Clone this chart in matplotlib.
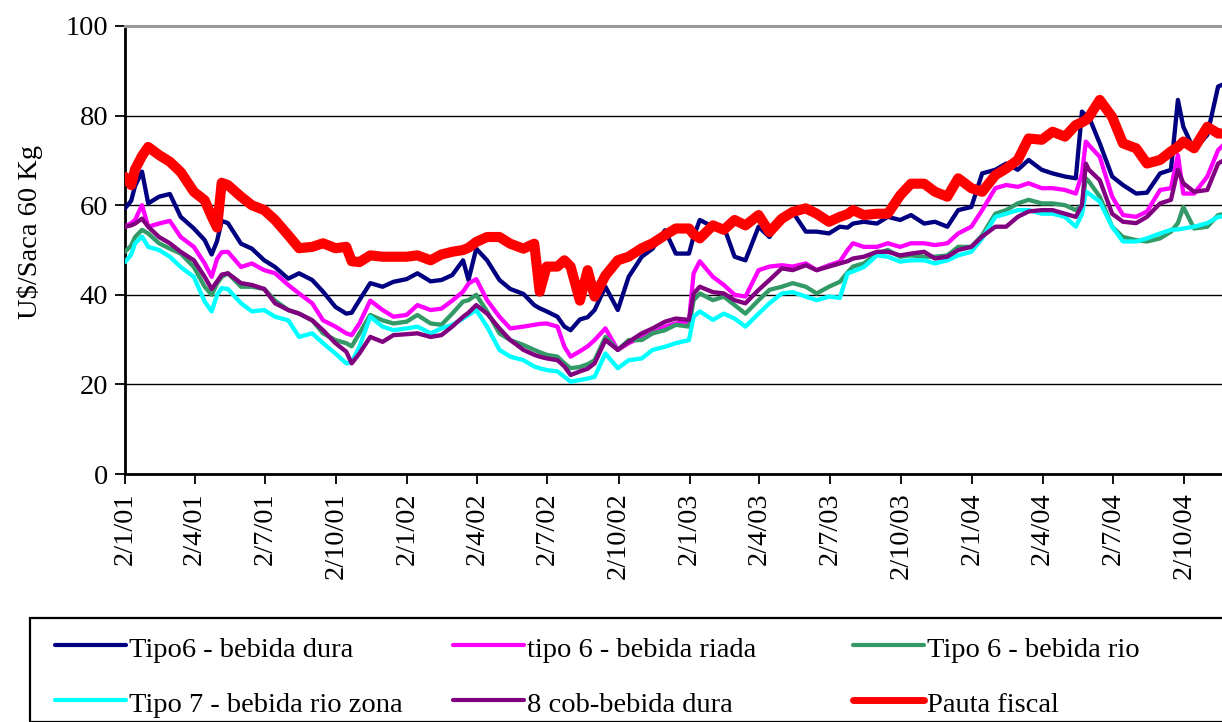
import matplotlib
matplotlib.use("Agg")
import matplotlib.pyplot as plt
import matplotlib.dates as mdates
from matplotlib.lines import Line2D
from matplotlib.patches import Rectangle
from matplotlib.ticker import FuncFormatter
import numpy as np

plt.rcParams["font.family"] = ["Liberation Serif", "DejaVu Serif"]

# Sample dates (roughly twice a month plus visible spikes)
dates = np.array([
    # 2001
    "2001-01-02", "2001-01-10", "2001-01-15", "2001-01-24", "2001-02-01", "2001-02-15",
    "2001-03-01", "2001-03-15", "2001-04-01", "2001-04-15", "2001-04-24", "2001-05-01",
    "2001-05-07", "2001-05-15", "2001-06-01", "2001-06-15", "2001-07-01", "2001-07-15",
    "2001-08-01", "2001-08-15", "2001-09-01", "2001-09-15", "2001-10-01", "2001-10-15",
    "2001-10-22", "2001-11-01", "2001-11-15", "2001-12-01", "2001-12-15",
    # 2002
    "2002-01-01", "2002-01-15", "2002-02-01", "2002-02-15", "2002-03-01", "2002-03-15",
    "2002-03-22", "2002-04-01", "2002-04-15", "2002-05-01", "2002-05-15", "2002-06-01",
    "2002-06-15", "2002-06-22", "2002-07-01", "2002-07-15", "2002-07-24", "2002-08-01",
    "2002-08-13", "2002-08-23", "2002-09-01", "2002-09-15", "2002-10-01", "2002-10-15",
    "2002-11-01", "2002-11-15", "2002-12-01", "2002-12-15",
    # 2003
    "2003-01-01", "2003-01-07", "2003-01-15", "2003-02-01", "2003-02-15", "2003-03-01",
    "2003-03-15", "2003-04-01", "2003-04-15", "2003-05-01", "2003-05-15", "2003-06-01",
    "2003-06-15", "2003-07-01", "2003-07-15", "2003-07-25", "2003-08-01", "2003-08-15",
    "2003-09-01", "2003-09-15", "2003-10-01", "2003-10-15", "2003-11-01", "2003-11-15",
    "2003-12-01", "2003-12-15",
    # 2004
    "2004-01-01", "2004-01-15", "2004-02-01", "2004-02-15", "2004-03-01", "2004-03-15",
    "2004-04-01", "2004-04-15", "2004-05-01", "2004-05-15", "2004-05-23", "2004-05-28",
    "2004-06-01", "2004-06-15", "2004-07-01", "2004-07-15", "2004-08-01", "2004-08-15",
    "2004-09-01", "2004-09-15", "2004-09-24", "2004-10-01", "2004-10-15", "2004-11-01",
    "2004-11-15", "2004-11-22",
], dtype="datetime64[D]")

tipo6_dura = [
    59.3, 61.0, 64.3, 67.5, 60.4, 61.9, 62.5, 57.4, 54.8, 52.2, 49.0, 52.0, 56.5, 56.0, 51.4,
    50.3, 47.7, 46.2, 43.6, 44.8, 43.3, 40.7, 37.3, 35.8, 36.0, 38.8, 42.6, 41.8, 42.9,
    43.5, 44.8, 43.0, 43.3, 44.4, 47.7, 43.3, 50.3, 47.7, 43.3, 41.3, 40.2, 37.7, 37.0,
    36.3, 35.1, 32.9, 32.1, 34.5, 35.0, 36.6, 41.8, 36.6, 44.0, 48.5, 50.3, 54.4, 49.2,
    49.2, 53.0, 56.7, 55.2, 55.2, 48.5, 47.7, 55.2, 52.9, 57.0, 58.5, 54.1, 54.1, 53.7,
    55.2, 55.0, 55.9, 56.3, 55.9, 57.4, 56.7, 57.8, 55.9, 56.3, 55.2, 58.9,
    59.6, 67.1, 67.9, 69.3, 67.9, 70.1, 67.9, 67.1, 66.4, 66.0, 80.9, 80.0, 79.7, 73.8,
    66.4, 64.5, 62.6, 62.8, 67.1, 67.9, 83.5, 77.5, 72.3, 75.7, 86.5, 87.0,
]
tipo6_riada = [
    55.2, 56.0, 56.7, 60.0, 55.2, 55.9, 56.5, 52.9, 50.7, 47.0, 44.0, 48.0, 49.5, 49.6, 46.2,
    47.0, 45.5, 44.8, 42.2, 40.3, 38.1, 34.3, 32.9, 31.4, 31.0, 33.6, 38.7, 36.6, 35.1,
    35.5, 37.7, 36.6, 36.9, 38.7, 40.7, 42.5, 43.5, 38.8, 35.1, 32.5, 32.9, 33.3, 33.5,
    33.6, 32.9, 28.4, 26.2, 27.4, 28.5, 29.9, 32.5, 27.7, 29.2, 30.6, 31.4, 32.9, 33.6,
    34.0, 44.8, 47.5, 44.0, 42.2, 40.0, 39.6, 45.5, 46.3, 46.6, 46.3, 47.0, 45.5, 46.6,
    47.4, 50.0, 51.5, 50.7, 50.7, 51.5, 50.7, 51.5, 51.5, 51.1, 51.5, 53.7,
    55.2, 58.9, 63.8, 64.5, 64.1, 64.9, 63.8, 63.8, 63.4, 62.6, 67.0, 74.2, 73.4, 70.8,
    61.9, 57.8, 57.4, 58.6, 63.4, 63.8, 71.2, 62.6, 62.6, 66.4, 72.3, 73.5,
]
tipo6_rio = [
    49.6, 51.0, 52.9, 54.5, 53.7, 51.5, 50.3, 49.2, 46.2, 41.8, 40.0, 42.5, 44.0, 44.8, 41.8,
    41.8, 41.3, 38.7, 36.6, 35.8, 34.3, 31.4, 29.9, 29.2, 28.5, 31.4, 35.5, 34.3, 33.6,
    34.0, 35.5, 33.6, 33.3, 35.8, 38.5, 38.8, 40.0, 36.3, 31.4, 29.9, 28.8, 27.7, 27.2,
    26.6, 26.2, 24.7, 23.6, 23.9, 24.5, 25.4, 30.6, 27.7, 29.9, 29.9, 31.4, 32.1, 33.3,
    32.9, 38.8, 40.3, 38.8, 39.6, 37.7, 35.8, 38.8, 41.1, 41.8, 42.6, 41.8, 40.3, 41.8,
    42.9, 45.0, 46.3, 47.0, 49.2, 50.0, 48.5, 48.8, 48.5, 48.5, 48.8, 50.7,
    50.7, 53.3, 58.1, 58.9, 60.4, 61.2, 60.4, 60.4, 60.0, 58.9, 60.0, 66.0, 65.3, 61.9,
    55.2, 52.9, 52.2, 51.9, 52.6, 54.1, 56.0, 59.6, 54.8, 55.2, 57.8, 58.0,
]
tipo7_rio_zona = [
    47.3, 49.0, 51.5, 53.0, 50.7, 50.0, 48.5, 46.2, 44.0, 38.5, 36.3, 40.0, 41.5, 41.3, 38.1,
    36.3, 36.6, 35.1, 34.3, 30.6, 31.4, 29.2, 26.9, 24.7, 25.0, 28.4, 35.1, 32.9, 32.1,
    32.5, 32.9, 31.4, 32.5, 33.3, 34.7, 35.5, 36.6, 32.9, 27.7, 26.2, 25.4, 24.0, 23.6,
    23.2, 22.9, 21.7, 20.6, 21.0, 21.3, 21.7, 26.9, 23.6, 25.4, 25.8, 27.7, 28.4, 29.2,
    29.9, 35.1, 36.3, 34.4, 35.8, 34.7, 32.9, 35.8, 38.1, 40.3, 40.6, 39.6, 38.8, 39.6,
    39.3, 44.8, 45.2, 46.2, 48.8, 48.5, 47.4, 47.7, 47.7, 47.0, 47.7, 48.8,
    49.6, 52.6, 57.4, 58.1, 58.9, 58.9, 58.1, 58.1, 57.4, 55.2, 58.0, 63.0, 62.6, 60.8,
    55.2, 51.9, 51.9, 52.6, 53.7, 54.5, 54.6, 54.8, 55.2, 56.0, 57.4, 57.5,
]
cob8_dura = [
    55.2, 55.5, 55.9, 57.0, 55.2, 52.9, 51.5, 49.6, 47.7, 44.0, 41.3, 43.0, 44.5, 44.8, 42.6,
    42.2, 41.3, 38.1, 36.6, 35.8, 34.3, 32.1, 29.2, 27.3, 24.7, 26.9, 30.6, 29.5, 31.0,
    31.2, 31.4, 30.6, 31.0, 32.9, 35.1, 36.0, 37.7, 35.8, 32.5, 29.9, 27.7, 26.6, 26.2,
    25.8, 25.4, 24.0, 22.1, 22.9, 23.5, 24.7, 29.9, 27.7, 29.5, 31.4, 32.5, 34.0, 34.7,
    34.4, 40.3, 41.8, 40.6, 40.3, 38.8, 38.1, 41.1, 43.3, 45.9, 45.5, 46.6, 45.5, 46.3,
    47.0, 47.5, 48.1, 48.5, 49.6, 49.6, 48.8, 49.2, 49.6, 48.1, 48.5, 50.0,
    50.7, 53.0, 55.2, 55.2, 57.4, 58.6, 58.9, 58.9, 58.1, 57.4, 60.0, 69.3, 67.9, 65.6,
    58.1, 56.3, 56.0, 57.4, 60.4, 61.2, 67.9, 64.9, 63.0, 63.4, 69.3, 70.0,
]
pauta_fiscal = [
    66.3, 64.5, 68.0, 71.0, 73.0, 71.2, 69.7, 67.4, 63.0, 61.1, 57.5, 55.0, 65.0, 64.5, 61.9,
    60.0, 58.9, 56.7, 53.3, 50.4, 50.7, 51.5, 50.4, 50.7, 47.5, 47.3, 48.8, 48.5, 48.5,
    48.5, 48.8, 47.7, 49.0, 49.6, 50.0, 50.5, 51.8, 52.9, 52.9, 51.4, 50.3, 51.4, 40.7,
    46.3, 46.3, 47.7, 46.3, 38.7, 45.5, 39.6, 44.3, 47.7, 48.5, 50.4, 51.5, 53.3, 54.8,
    54.8, 53.5, 52.6, 55.5, 54.5, 56.7, 55.5, 57.8, 54.0, 57.0, 58.5, 59.3, 58.1, 56.3,
    57.4, 58.0, 58.9, 57.8, 58.1, 58.1, 62.2, 64.8, 64.8, 63.0, 61.9, 66.0,
    63.8, 63.0, 66.7, 68.2, 70.1, 74.9, 74.6, 76.4, 75.3, 77.9, 78.5, 79.0, 79.7, 83.5,
    79.7, 73.8, 72.7, 69.3, 70.1, 72.0, 73.0, 74.2, 72.7, 77.5, 76.0, 76.0,
]

labels = [
    "Tipo6 - bebida dura",
    "tipo 6 - bebida riada",
    "Tipo 6 - bebida rio",
    "Tipo 7 - bebida rio zona",
    "8 cob-bebida dura",
    "Pauta fiscal",
]
series = [tipo6_dura, tipo6_riada, tipo6_rio, tipo7_rio_zona, cob8_dura, pauta_fiscal]
colors = ["#000080", "#FF00FF", "#339966", "#00FFFF", "#800080", "#FF0000"]
widths = [3.1, 3.1, 3.1, 3.1, 3.1, 7.3]

for s in series:
    assert len(s) == len(dates)

W, H = 1222, 722
fig = plt.figure(figsize=(W / 100, H / 100), dpi=100)
ax = fig.add_axes([125 / W, 1 - 474 / H, (W - 125) / W, (474 - 26) / H])

for s, c, lw in zip(series, colors, widths):
    ax.plot(dates, s, color=c, lw=lw, solid_joinstyle="round", solid_capstyle="round", zorder=3)

ax.set_ylim(0, 100)
ax.set_xlim(np.datetime64("2001-01-02"), np.datetime64("2004-11-20"))
ax.set_yticks([0, 20, 40, 60, 80, 100])
ax.yaxis.grid(True, color="black", lw=1.0)
ax.set_axisbelow(True)

# x ticks on the 2nd day of every quarter, d/m/yy
ax.xaxis.set_major_locator(mdates.MonthLocator(bymonth=[1, 4, 7, 10], bymonthday=2))
ax.xaxis.set_major_formatter(
    FuncFormatter(lambda v, pos: "{0.day}/{0.month}/{1}".format(mdates.num2date(v), mdates.num2date(v).strftime("%y")))
)
ax.tick_params(axis="x", labelrotation=90, length=7, width=1.3, direction="out", pad=6, labelsize=20.5)
ax.tick_params(axis="y", length=7, width=1.3, direction="out", pad=5, labelsize=20.5)

ax.spines["right"].set_visible(False)
ax.spines["top"].set_color("#999999")
ax.spines["top"].set_linewidth(2.2)
ax.spines["left"].set_linewidth(2.0)
ax.spines["bottom"].set_linewidth(2.0)

ax.set_ylabel("U$/Saca 60 Kg", fontsize=20.5)
ax.yaxis.set_label_coords(-0.075, 0.54)

# legend box below the chart, three columns in rows
fig.add_artist(Rectangle((30 / W, 0), 1.0, 1 - 618 / H, transform=fig.transFigure,
                         fill=False, edgecolor="black", lw=1.6))
col_x = [55, 453, 853]
row_y = [645, 700]
for i, (lab, c, lw) in enumerate(zip(labels, colors, widths)):
    r, k = divmod(i, 3)
    x0 = col_x[k]
    y = 1 - row_y[r] / H
    fig.add_artist(Line2D([x0 / W, (x0 + 71) / W], [y, y], transform=fig.transFigure,
                          color=c, lw=3.0 if lw < 4 else 5.0, solid_capstyle="round"))
    fig.text((x0 + 74) / W, 1 - (row_y[r] + 12) / H, lab, fontsize=20.5, ha="left", va="baseline")

fig.savefig("out.png", dpi=100)
